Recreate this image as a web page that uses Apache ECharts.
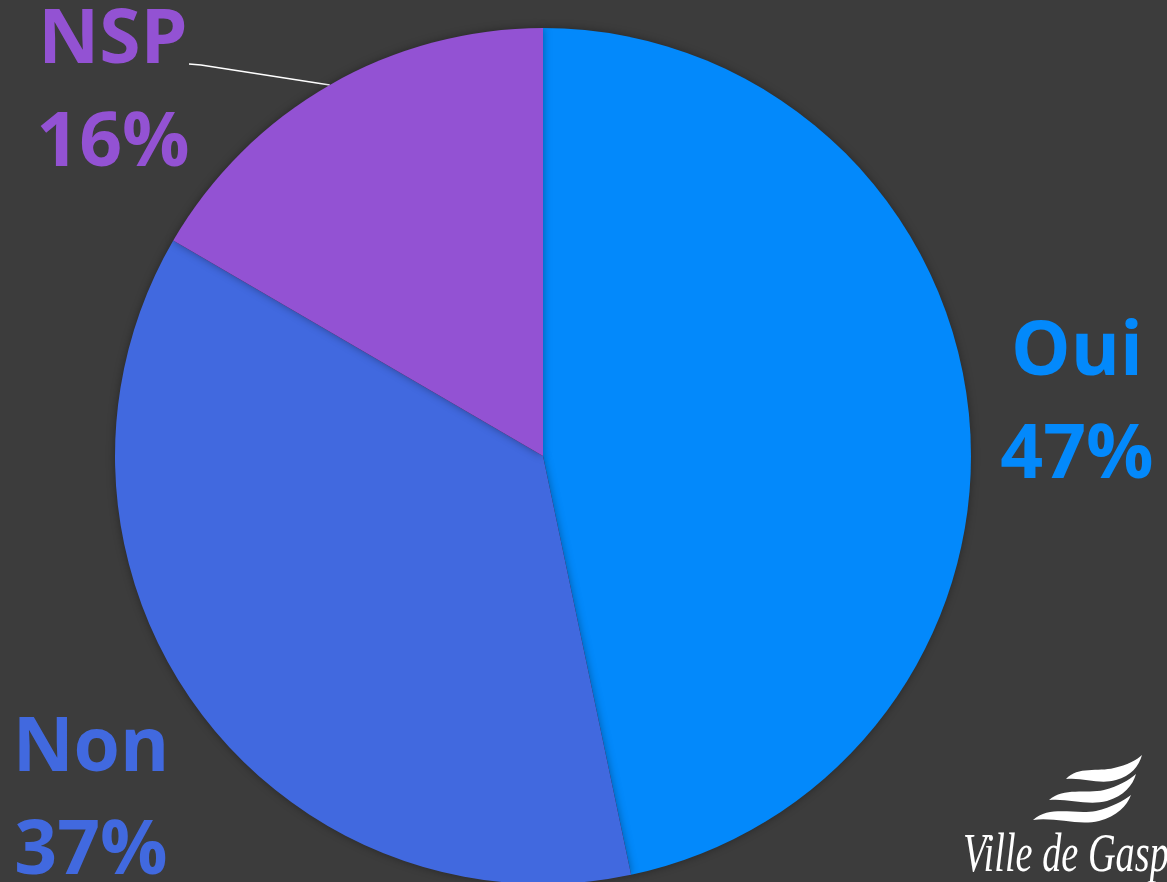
<!DOCTYPE html>
<html>
<head>
<meta charset="utf-8">
<script src="https://cdn.jsdelivr.net/npm/echarts@6/dist/echarts.min.js"></script>
<style>
html,body{margin:0;padding:0;background:#3c3c3c;}
#c{width:1167px;height:882px;}
</style>
</head>
<body>
<div id="c"></div>
<script>
const categories = ['Oui', 'Non', 'NSP'];
const values = [46.7, 36.7, 16.6];
const colors = ['#0389fb', '#4169df', '#9352d3'];
const labelPositions = ['inside', 'inside', 'outside'];
// label anchor (centre of each two-line label)
const labelCenters = [[1077, 405], [91, 801], [113, 93]];
// label line bend points relative to the label centre (NSP only)
const lineBend = [[88, -28], [76, -29]];

const waveSvg = '<svg xmlns="http://www.w3.org/2000/svg" width="120" height="70" viewBox="1030 754 120 70">' +
  '<path fill="#ffffff" d="M1066,779 C1078,766 1098,772 1114,768 C1127,765 1137,760 1142,755 C1139,766 1131,776 1116,780 C1099,785 1083,777 1066,779 Z"/>' +
  '<path fill="#ffffff" d="M1049,800 C1064,787 1086,794 1104,790 C1119,786 1129,780 1136,774 C1133,785 1124,796 1107,801 C1087,806 1068,798 1049,800 Z"/>' +
  '<path fill="#ffffff" d="M1033,820 C1050,805 1075,815 1096,811 C1112,807 1123,801 1131,795 C1127,806 1117,816 1099,821 C1078,826 1056,817 1033,820 Z"/>' +
  '</svg>';

const chart = echarts.init(document.getElementById('c'));
const data = categories.map((c, i) => ({
  name: c,
  value: values[i],
  itemStyle: { color: colors[i] },
  label: { position: labelPositions[i], color: colors[i] },
  labelLine: { show: labelPositions[i] === 'outside' }
}));

chart.setOption({
  backgroundColor: '#3c3c3c',
  animation: false,
  series: [{
    type: 'pie',
    center: [543, 456],
    radius: 428,
    startAngle: 90,
    clockwise: true,
    percentPrecision: 0,
    data: data,
    itemStyle: { shadowBlur: 8, shadowColor: 'rgba(0,0,0,0.35)' },
    label: {
      show: true,
      formatter: '{b}\n{d}%',
      fontFamily: 'Open Sans',
      fontWeight: 'bold',
      fontSize: 75,
      lineHeight: 103,
      align: 'center'
    },
    labelLine: { lineStyle: { color: '#ffffff', width: 1.5 } },
    labelLayout: function (params) {
      const i = params.dataIndex;
      const p = labelCenters[i];
      const out = { x: p[0], y: p[1], align: 'center', verticalAlign: 'middle' };
      if (labelPositions[i] === 'outside' && params.labelLinePoints) {
        out.labelLinePoints = [
          params.labelLinePoints[0],
          [p[0] + lineBend[0][0], p[1] + lineBend[0][1]],
          [p[0] + lineBend[1][0], p[1] + lineBend[1][1]]
        ];
      }
      return out;
    }
  }],
  graphic: [
    {
      type: 'image',
      left: 1030,
      top: 754,
      style: { image: 'data:image/svg+xml;charset=utf-8,' + encodeURIComponent(waveSvg), width: 120, height: 70 }
    },
    {
      type: 'text',
      x: 963,
      y: 857,
      scaleX: 0.71,
      style: { text: 'Ville de Gaspé', fill: '#ffffff', font: 'italic 54px "Liberation Serif"', verticalAlign: 'middle', align: 'left' }
    }
  ]
});
</script>
</body>
</html>
